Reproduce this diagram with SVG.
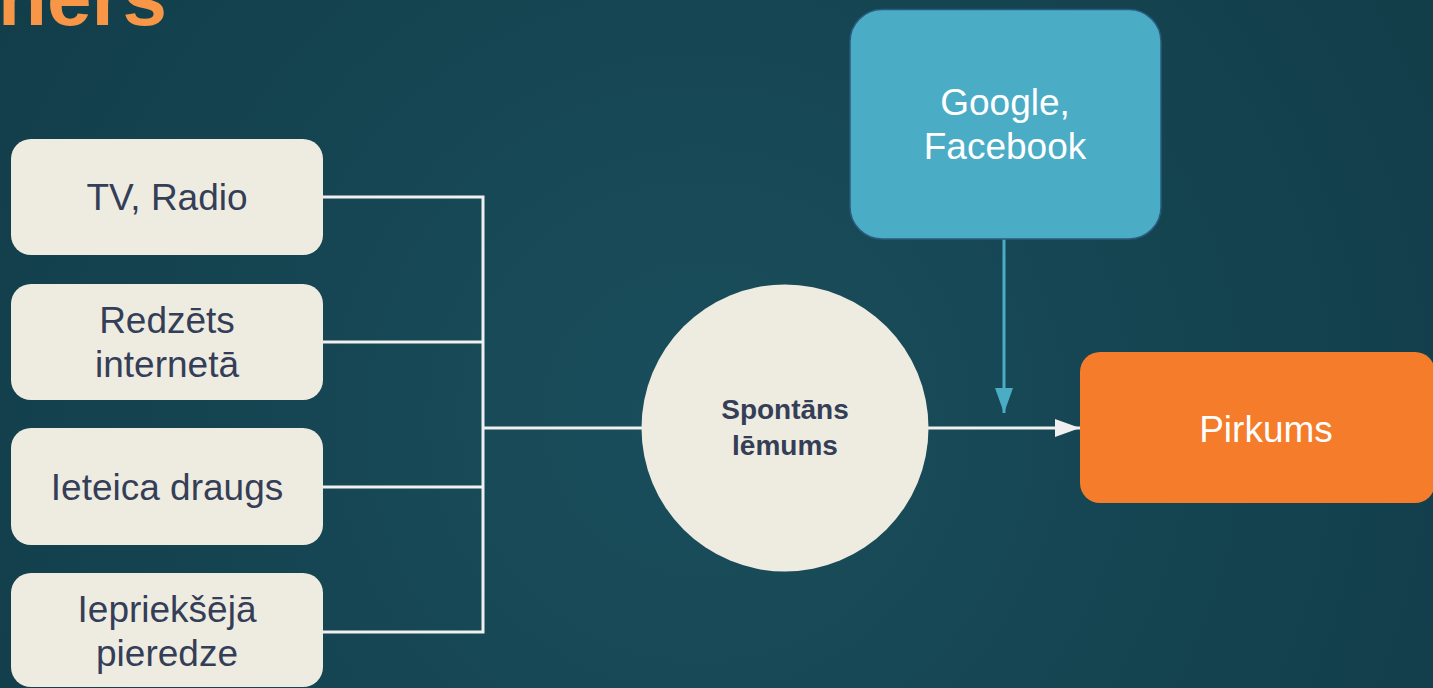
<svg xmlns="http://www.w3.org/2000/svg" width="1433" height="688" viewBox="0 0 1433 688">
<defs>
<radialGradient id="bg" cx="700" cy="420" r="900" gradientUnits="userSpaceOnUse">
<stop offset="0" stop-color="#1a4e5c"/>
<stop offset="1" stop-color="#113c48"/>
</radialGradient>
<marker id="aw" markerWidth="26" markerHeight="18" refX="25" refY="9" orient="auto" markerUnits="userSpaceOnUse">
<path d="M0,0 L25,9 L0,18 Z" fill="#f0f0f0"/>
</marker>
<marker id="ab" markerWidth="26" markerHeight="18" refX="25" refY="9" orient="auto" markerUnits="userSpaceOnUse">
<path d="M0,0 L25,9 L0,18 Z" fill="#4bacc6"/>
</marker>
</defs>
<style>
.src rect{fill:#eeece1;}
.t{font-family:"Liberation Sans",Arial,sans-serif;font-size:37px;text-anchor:middle;fill:#353e57;}
.w{fill:#ffffff;}
.b{font-weight:bold;font-size:28px;}
.con{fill:none;stroke:#f0f0f0;stroke-width:3;}
</style>
<rect width="1433" height="688" fill="url(#bg)"/>
<text x="167" y="25" font-family="'Liberation Sans',Arial,sans-serif" font-size="80" font-weight="bold" fill="#f79646" text-anchor="end">ners</text>
<g id="connectors">
<polyline class="con" points="323,197 483,197 483,632 323,632"/>
<line class="con" x1="323" y1="342" x2="483" y2="342"/>
<line class="con" x1="323" y1="487" x2="483" y2="487"/>
<line class="con" x1="483" y1="428" x2="642" y2="428"/>
<line class="con" x1="928" y1="428" x2="1080" y2="428" marker-end="url(#aw)"/>
<line x1="1004" y1="239" x2="1004" y2="413" stroke="#4bacc6" stroke-width="3" marker-end="url(#ab)"/>
</g>
<g id="tv" class="src">
<rect x="11" y="139" width="312" height="116" rx="20"/>
<text class="t" x="167" y="210">TV, Radio</text>
</g>
<g id="internets" class="src">
<rect x="11" y="284" width="312" height="116" rx="20"/>
<text class="t" x="167" y="333">Redzēts</text>
<text class="t" x="167" y="377">internetā</text>
</g>
<g id="draugs" class="src">
<rect x="11" y="428" width="312" height="117" rx="20"/>
<text class="t" x="167" y="500">Ieteica draugs</text>
</g>
<g id="pieredze" class="src">
<rect x="11" y="573" width="312" height="114" rx="20"/>
<text class="t" x="167" y="622">Iepriekšējā</text>
<text class="t" x="167" y="666">pieredze</text>
</g>
<g id="lemums">
<circle cx="785" cy="428" r="143.5" fill="#eeece1"/>
<text class="t b" x="785" y="419">Spontāns</text>
<text class="t b" x="785" y="455">lēmums</text>
</g>
<g id="google">
<rect x="850" y="9.5" width="311" height="229.5" rx="32" fill="#4bacc6" stroke="#2a5b7f" stroke-width="1.5"/>
<text class="t w" x="1005" y="115">Google,</text>
<text class="t w" x="1005" y="159">Facebook</text>
</g>
<g id="pirkums">
<rect x="1080" y="352" width="355" height="151" rx="20" fill="#f47c2a"/>
<text class="t w" x="1266" y="442">Pirkums</text>
</g>
</svg>
